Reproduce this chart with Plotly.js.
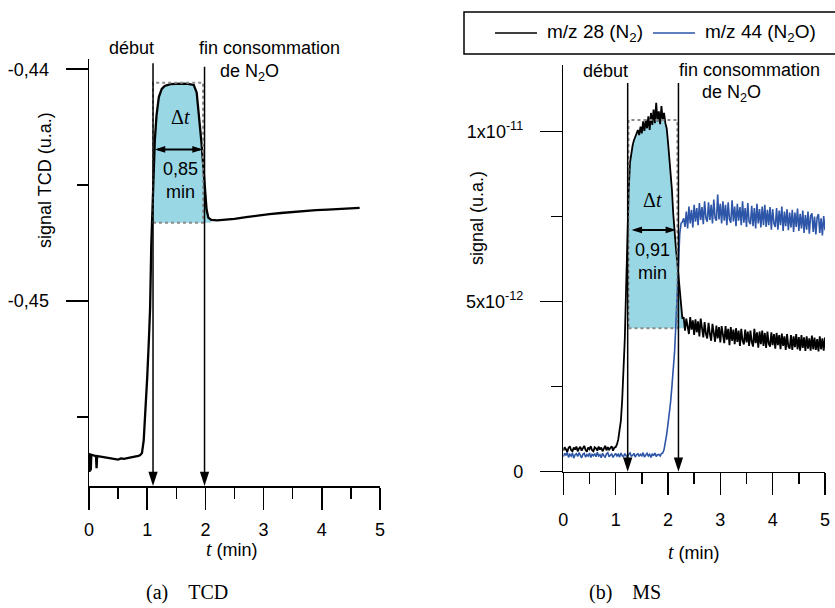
<!DOCTYPE html>
<html><head><meta charset="utf-8">
<script src="https://cdn.plot.ly/plotly-3.0.1.min.js"></script>
<style>html,body{margin:0;padding:0;background:#fff}</style>
</head><body><div id="chart" style="width:835px;height:608px"></div>
<script>
// ---------- (a) TCD ----------
const tcdTime = [0,0.01,0.02,0.03,0.04,0.1,0.12,0.13,0.14,0.2,0.3,0.4,0.5,0.55,0.6,0.7,0.8,0.85,0.88,
  0.91,0.94,0.97,1.0,1.03,1.05,1.07,1.1,1.13,1.16,1.2,1.25,1.3,1.4,1.5,1.6,1.7,1.75,1.8,1.85,
  1.9,1.93,1.96,1.99,2.02,2.05,2.1,2.2,2.3,2.5,2.7,2.9,3.1,3.3,3.5,3.7,3.9,4.1,4.3,4.5,4.65];
const tcdSignal = [-0.45655,-0.45736,-0.45660,-0.45730,-0.45662,-0.45666,-0.45668,-0.45720,-0.45668,
  -0.45670,-0.45674,-0.45678,-0.45683,-0.45678,-0.45680,-0.45675,-0.45671,-0.45667,-0.45664,
  -0.45655,-0.45600,-0.45480,-0.45330,-0.45160,-0.45030,-0.44760,-0.44480,-0.44310,-0.44200,
  -0.44120,-0.44085,-0.44072,-0.44064,-0.44062,-0.44062,-0.44063,-0.44065,-0.44068,-0.44100,
  -0.44220,-0.44310,-0.44405,-0.44510,-0.44605,-0.44640,-0.44650,-0.44652,-0.44650,-0.44645,
  -0.44638,-0.44630,-0.44625,-0.44620,-0.44615,-0.44610,-0.44608,-0.44605,-0.44603,-0.44600,-0.44598];
const tcdTickVals = [-0.44, -0.45];
const tcdTickText = ['-0,44', '-0,45'];
const tcdRange = [-0.45797, -0.43956];
const tcdStart = 1.1, tcdEnd = 1.985, tcdBoxEnd = 1.96, tcdFillEnd = 2.12;
const tcdLow = -0.44662, tcdHigh = -0.44058;
const tcdArrowY = -0.44346, tcdArrowFrom = 1.13, tcdArrowTo = 1.955;
const tcdLineTop = [-0.43974, -0.43989];
const tcdDelta = '0,85';

// ---------- (b) MS (values in units of 1e-12) ----------
const msStep = 0.025; // sampling interval (min), first sample at t = 0
const msN2 = [
  0.62,0.72,0.66,0.58,0.70,0.75,0.63,0.60,0.71,0.65,
  0.74,0.60,0.68,0.73,0.62,0.70,0.76,0.64,0.59,0.71,
  0.66,0.75,0.63,0.60,0.72,0.69,0.62,0.74,0.65,0.71,
  0.60,0.68,0.76,0.63,0.72,0.65,0.70,0.75,0.62,0.71,0.72,
  0.80,0.95,1.20,1.50,2.10,2.90,3.90,5.40,7.00,8.30,9.10,9.40,9.60,9.75,9.85,9.95,
  10.05,9.90,10.15,9.95,10.30,10.02,10.35,10.10,10.45,10.05,10.55,10.20,10.65,10.25,10.85,10.30,
  10.60,10.22,10.75,10.35,10.55,10.25,10.10,
  9.70,9.30,8.80,8.30,7.60,7.00,6.60,6.20,5.80,5.20,4.80,4.50,
  4.55,4.15,4.50,4.20,4.05,4.55,4.18,4.45,4.02,4.48,
  4.10,4.42,3.98,4.50,4.15,3.95,4.40,4.05,3.92,4.38,
  4.05,3.85,4.35,3.98,3.82,4.30,3.92,4.25,3.80,4.28,
  3.95,3.78,4.28,3.88,4.20,3.72,4.25,3.85,4.18,3.75,
  4.22,3.82,4.15,3.70,4.20,3.85,3.74,4.18,3.80,4.12,
  3.70,4.15,3.82,3.68,4.20,3.78,4.10,3.65,4.12,3.75,
  4.15,3.70,4.08,3.64,4.12,3.76,3.68,4.10,3.72,4.05,
  3.62,4.08,3.72,4.02,3.60,4.06,3.70,3.98,3.58,4.05,
  3.68,3.62,4.02,3.58,3.98,3.66,4.05,3.60,3.96,3.56,
  4.02,3.64,3.95,3.55,3.98,3.62,3.92,3.56,4.00,3.60,
  3.94,3.58,3.90,3.54,3.98,3.60,3.92,3.56,3.95];
const msN2O = [
  0.44,0.54,0.48,0.57,0.42,0.51,0.46,0.55,0.40,0.50,
  0.53,0.45,0.56,0.47,0.41,0.51,0.54,0.43,0.50,0.46,
  0.55,0.42,0.51,0.47,0.53,0.44,0.57,0.46,0.50,0.41,
  0.54,0.47,0.43,0.52,0.56,0.44,0.50,0.53,0.42,0.48,
  0.54,0.46,0.51,0.43,0.55,0.47,0.44,0.53,0.49,0.42,
  0.51,0.55,0.46,0.48,0.54,0.43,0.50,0.53,0.45,0.51,
  0.47,0.56,0.43,0.50,0.54,0.46,0.51,0.42,0.53,0.47,
  0.55,0.45,0.50,0.51,0.46,0.53,
  0.55,0.65,0.85,1.10,1.40,1.70,2.05,2.50,3.00,3.50,4.30,5.30,6.40,7.00,7.30,7.35,7.45,
  7.20,7.65,7.15,7.80,7.30,7.70,7.18,7.85,7.35,7.75,
  7.25,7.90,7.40,7.78,7.28,7.95,7.45,7.35,7.92,7.40,
  7.85,7.30,8.00,7.45,7.38,8.15,7.42,7.88,7.30,7.95,
  7.38,7.85,7.25,7.92,7.42,7.32,7.98,7.36,7.80,7.22,
  7.88,7.38,7.78,7.25,7.95,7.32,7.75,7.20,7.90,7.35,
  7.28,7.82,7.22,7.75,7.15,7.88,7.30,7.72,7.18,7.80,
  7.25,7.85,7.20,7.70,7.25,7.78,7.12,7.72,7.30,7.20,
  7.75,7.12,7.68,7.25,7.80,7.08,7.65,7.22,7.72,7.10,
  7.62,7.18,7.70,7.05,7.62,7.20,7.74,7.08,7.58,7.15,
  7.68,7.02,7.55,7.12,7.65,7.00,7.52,7.60,7.05,7.50,
  6.98,7.48,7.58,7.02,7.45,6.95,7.52,7.10];
const msNames = ['m/z 28 (N<sub>2</sub>)', 'm/z 44 (N<sub>2</sub>O)'];
const msColors = ['#000000', '#2d55a8'];
const msTickVals = [0, 5, 10];
const msTickText = ['0', '5x10<sup>-12</sup>', '1x10<sup>-11</sup>'];
const msRange = [0, 11.96];
const msStart = 1.23, msEnd = 2.2, msBoxStart = 1.245, msBoxEnd = 2.18, msFillEnd = 2.33;
const msLow = 4.22, msHigh = 10.34;
const msArrowY = 7.11, msArrowFrom = 1.305, msArrowTo = 2.155;
const msLineTop = 11.43;
const msDelta = '0,91';

const xTicks = [0, 1, 2, 3, 4, 5];
const msTime = msN2.map((_, i) => +(i * msStep).toFixed(3));

// ---------- helpers ----------
const W = 835, H = 608;
const px = x => x / W, py = y => 1 - y / H;
const CYAN = '#99d7e5', GREY = '#8a8a8a';
const SANS = 'Liberation Sans, Arial, sans-serif';
const SERIF = 'Liberation Serif, Times New Roman, serif';

function fillUnder(t, v, start, end, base) {
  const xs = [], ys = [];
  for (let i = 0; i < t.length; i++) if (t[i] >= start - 1e-9 && t[i] <= end + 1e-9) { xs.push(t[i]); ys.push(v[i]); }
  return {x: [xs[0], ...xs, xs[xs.length - 1]], y: [base, ...ys, base]};
}
const fL = fillUnder(tcdTime, tcdSignal, tcdStart, tcdFillEnd, tcdLow);
const fR = fillUnder(msTime, msN2, msBoxStart, msFillEnd, msLow);

const traces = [
  {x: fL.x, y: fL.y, xaxis: 'x', yaxis: 'y', mode: 'lines', fill: 'toself', fillcolor: CYAN,
   line: {width: 0}, showlegend: false, hoverinfo: 'skip'},
  {x: tcdTime, y: tcdSignal, xaxis: 'x', yaxis: 'y', mode: 'lines', line: {color: '#000', width: 2.3},
   showlegend: false},
  {x: fR.x, y: fR.y, xaxis: 'x2', yaxis: 'y2', mode: 'lines', fill: 'toself', fillcolor: CYAN,
   line: {width: 0}, showlegend: false, hoverinfo: 'skip'},
  {x: msTime, y: msN2, xaxis: 'x2', yaxis: 'y2', mode: 'lines', name: msNames[0],
   line: {color: msColors[0], width: 1.8}, showlegend: false},
  {x: msTime, y: msN2O, xaxis: 'x2', yaxis: 'y2', mode: 'lines', name: msNames[1],
   line: {color: msColors[1], width: 1.6}, showlegend: false},
  {x: [tcdStart, tcdEnd], y: [tcdRange[0], tcdRange[0]], xaxis: 'x', yaxis: 'y', mode: 'markers',
   marker: {symbol: 'arrow', angle: 180, size: 15, color: '#000', line: {width: 0}}, cliponaxis: false, showlegend: false},
  {x: [msStart, msEnd], y: [msRange[0], msRange[0]], xaxis: 'x2', yaxis: 'y2', mode: 'markers',
   marker: {symbol: 'arrow', angle: 180, size: 15, color: '#000', line: {width: 0}}, cliponaxis: false, showlegend: false},
  {x: [tcdArrowFrom, tcdArrowTo], y: [tcdArrowY, tcdArrowY], xaxis: 'x', yaxis: 'y', mode: 'markers',
   marker: {symbol: 'arrow', angle: [270, 90], size: 11, color: '#000', line: {width: 0}}, showlegend: false},
  {x: [msArrowFrom, msArrowTo], y: [msArrowY, msArrowY], xaxis: 'x2', yaxis: 'y2', mode: 'markers',
   marker: {symbol: 'arrow', angle: [270, 90], size: 11, color: '#000', line: {width: 0}}, showlegend: false}
];

const axisBase = {
  showline: true, linecolor: '#000', linewidth: 1.5, ticks: 'outside', ticklen: 22, tickwidth: 1.5,
  tickcolor: '#000', showgrid: false, zeroline: false, fixedrange: true,
  tickfont: {family: SANS, size: 18, color: '#000'}
};
const layout = {
  width: W, height: H, margin: {l: 0, r: 0, t: 0, b: 0},
  paper_bgcolor: '#fff', plot_bgcolor: 'rgba(0,0,0,0)',
  separators: ', ', font: {family: SANS, size: 18, color: '#000'},
  showlegend: false,
  xaxis: Object.assign({}, axisBase, {domain: [px(89), px(380)], range: [0, 5], anchor: 'y',
    tickmode: 'array', tickvals: xTicks, ticklabelstandoff: 5,
    minor: {dtick: 0.5, tick0: 0, ticks: 'outside', ticklen: 11, tickwidth: 1.5, tickcolor: '#000'}}),
  yaxis: Object.assign({}, axisBase, {domain: [py(486), py(59)], range: tcdRange, anchor: 'x',
    tickmode: 'array', tickvals: tcdTickVals, ticktext: tcdTickText, ticklabelstandoff: 13,
    minor: {dtick: 0.005, tick0: -0.44, ticks: 'outside', ticklen: 11, tickwidth: 1.5, tickcolor: '#000'}}),
  xaxis2: Object.assign({}, axisBase, {domain: [px(563.3), px(825)], range: [0, 5], anchor: 'y2',
    tickmode: 'array', tickvals: xTicks, ticklabelstandoff: 9,
    minor: {dtick: 0.5, tick0: 0, ticks: 'outside', ticklen: 11, tickwidth: 1.5, tickcolor: '#000'}}),
  yaxis2: Object.assign({}, axisBase, {domain: [py(471.7), py(65)], range: msRange, anchor: 'x2',
    tickmode: 'array', tickvals: msTickVals, ticktext: msTickText, ticklabelstandoff: 13,
    minor: {dtick: 2.5, tick0: 0, ticks: 'outside', ticklen: 11, tickwidth: 1.5, tickcolor: '#000'}}),
  shapes: [
    {type: 'rect', xref: 'x', yref: 'y', x0: tcdStart, x1: tcdBoxEnd, y0: tcdLow, y1: tcdHigh,
     line: {color: GREY, width: 2, dash: 'dot'}},
    {type: 'rect', xref: 'x2', yref: 'y2', x0: msBoxStart, x1: msBoxEnd, y0: msLow, y1: msHigh,
     line: {color: GREY, width: 2, dash: 'dot'}},
    {type: 'line', xref: 'x', yref: 'y', x0: tcdStart, x1: tcdStart, y0: tcdRange[0] + 0.0004, y1: tcdLineTop[0], line: {color: '#000', width: 1.5}},
    {type: 'line', xref: 'x', yref: 'y', x0: tcdEnd, x1: tcdEnd, y0: tcdRange[0] + 0.0004, y1: tcdLineTop[1], line: {color: '#000', width: 1.5}},
    {type: 'line', xref: 'x2', yref: 'y2', x0: msStart, x1: msStart, y0: 0.3, y1: msLineTop, line: {color: '#000', width: 1.5}},
    {type: 'line', xref: 'x2', yref: 'y2', x0: msEnd, x1: msEnd, y0: 0.3, y1: msLineTop, line: {color: '#000', width: 1.5}},
    {type: 'line', xref: 'x', yref: 'y', x0: tcdArrowFrom + 0.05, x1: tcdArrowTo - 0.05, y0: tcdArrowY, y1: tcdArrowY, line: {color: '#000', width: 2}},
    {type: 'line', xref: 'x2', yref: 'y2', x0: msArrowFrom + 0.05, x1: msArrowTo - 0.05, y0: msArrowY, y1: msArrowY, line: {color: '#000', width: 2}},
    // legend frame and legend line samples
    {type: 'rect', xref: 'paper', yref: 'paper', x0: px(464), x1: 1.02, y0: py(54), y1: py(12),
     line: {color: '#000', width: 1.5}},
    {type: 'line', xref: 'paper', yref: 'paper', x0: px(495), x1: px(537), y0: py(33), y1: py(33),
     line: {color: msColors[0], width: 1.5}},
    {type: 'line', xref: 'paper', yref: 'paper', x0: px(653), x1: px(695), y0: py(33), y1: py(33),
     line: {color: msColors[1], width: 1.5}}
  ],
  annotations: []
};

function note(x, y, text, extra) {
  layout.annotations.push(Object.assign({xref: 'paper', yref: 'paper', x: px(x), y: py(y), text: text,
    showarrow: false, xanchor: 'center', yanchor: 'middle', font: {family: SANS, size: 18, color: '#000'}}, extra || {}));
}
const tItal = '<span style="font-family:Liberation Serif;font-size:20px"><i>t</i></span>';
// legend texts
note(545, 33, msNames[0], {xanchor: 'left', font: {family: SANS, size: 19, color: '#000'}});
note(703, 33, msNames[1], {xanchor: 'left', font: {family: SANS, size: 19, color: '#000'}});
// (a)
note(131, 48, 'début');
note(269, 48, 'fin consommation');
note(250, 72, 'de N<sub>2</sub>O');
note(180, 117, 'Δ<i>t</i>', {font: {family: SERIF, size: 20, color: '#000'}});
note(180, 180, tcdDelta + '<br>min');
note(45, 180, 'signal TCD (u.a.)', {textangle: -90});
note(232, 549, tItal + ' (min)');
note(186.5, 592, '(a)&nbsp;&nbsp;&nbsp;&nbsp;TCD', {font: {family: SERIF, size: 20, color: '#000'}});
// (b)
note(605, 71, 'début');
note(749, 70, 'fin consommation');
note(731, 94, 'de N<sub>2</sub>O');
note(652, 200, 'Δ<i>t</i>', {font: {family: SERIF, size: 20, color: '#000'}});
note(652, 261, msDelta + '<br>min');
note(477, 218, 'signal (u.a.)', {textangle: -90});
note(694, 552, tItal + ' (min)');
note(625, 592, '(b)&nbsp;&nbsp;&nbsp;&nbsp;MS', {font: {family: SERIF, size: 20, color: '#000'}});

Plotly.newPlot('chart', traces, layout, {displayModeBar: false, staticPlot: true});
</script>
</body></html>
